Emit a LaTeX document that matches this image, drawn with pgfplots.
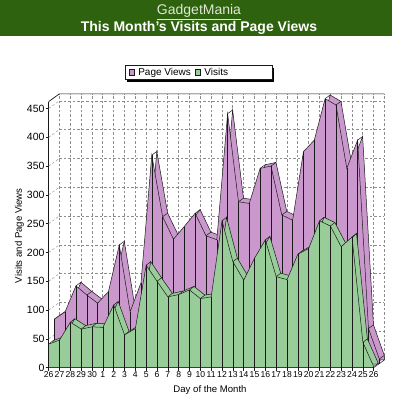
\documentclass[border=0pt]{standalone}
\usepackage{pgfplots}
\usepackage{pgfplotstable}
\pgfplotsset{compat=1.18}
\usepackage{fontspec}
\setmainfont{Liberation Sans}
\definecolor{hdr}{RGB}{46,98,14}
\definecolor{hdrtext}{RGB}{222,232,212}
\definecolor{pv}{RGB}{202,152,204}
\definecolor{vi}{RGB}{152,204,152}
\definecolor{edge}{RGB}{25,25,25}
\definecolor{gridc}{RGB}{140,140,140}
\pgfdeclarelayer{bg}
\pgfdeclarelayer{shad}
\pgfsetlayers{bg,shad,main}
\pgfplotstableread{
x pv vi
0 77 41
1 90 48
2 135 79
3 119 67
4 105 71
5 125 70
6 206 109
7 90 57
8 140 68
9 362 178
10 255 150
11 216 123
12 238 127
13 261 135
14 222 120
15 215 123
16 434 255
17 281 184
18 278 152
19 339 190
20 343 222
21 258 158
22 249 153
23 368 197
24 388 207
25 460 255
26 449 246
27 339 210
28 388 227
29 61 44
30 8 2
}\data
\begin{document}
\begin{tikzpicture}
\path[use as bounding box] (0pt,0pt) rectangle (392pt,400pt);
\begin{pgfonlayer}{bg}
\fill[white] (0pt,0pt) rectangle (392pt,400pt);
\end{pgfonlayer}
\fill[hdr] (0pt,364pt) rectangle (392pt,400pt);
\node[anchor=base, text=hdrtext, font=\fontsize{14}{16}\selectfont, inner sep=0pt] at (199pt,385pt) {\underline{GadgetMania}};
\node[anchor=base, text=white, font=\bfseries\fontsize{14}{16}\selectfont, inner sep=0pt] at (199pt,368.5pt) {This Month's Visits and Page Views};

% back wall
\begin{axis}[at={(59.3pt,40pt)}, anchor=south west, scale only axis,
  width=325pt, height=266.1pt,
  xmin=0, xmax=30, ymin=0, ymax=462,
  xtick={0,...,30}, ytick={0,50,...,450},
  xticklabels={}, yticklabels={}, major tick length=0pt,
  grid=major, grid style={gridc, dash pattern=on 2.5pt off 2pt, line width=0.4pt},
  axis line style={draw=none}]
\addplot[draw=none] coordinates {(0,0)};
\end{axis}

% front
\begin{axis}[at={(48.7pt,32.3pt)}, anchor=south west, scale only axis,
  width=325pt, height=266.1pt,
  xmin=0, xmax=30, ymin=0, ymax=462, clip=false,
  axis x line*=bottom, axis y line*=left,
  axis line style={edge, line width=0.8pt, -},
  xtick={0,...,30},
  xticklabels={26,27,28,29,30,1,2,3,4,5,6,7,8,9,10,11,12,13,14,15,16,17,18,19,20,21,22,23,24,25,26},
  ytick={0,50,...,450},
  tick align=outside, major tick length=3pt, tick style={edge, line width=0.5pt},
  /pgf/number format/assume math mode=true,
  xticklabel style={font=\fontsize{8.6}{10}\selectfont, inner sep=1pt},
  yticklabel style={font=\fontsize{10.5}{12}\selectfont, inner sep=1pt},
  xlabel={Day of the Month}, ylabel={Visits and Page Views},
  label style={font=\fontsize{9.6}{11}\selectfont},
  xlabel style={at={(axis description cs:0.4963,-0.0838)}, anchor=center},
  ylabel style={at={(axis description cs:-0.0898,0.496)}, anchor=center},
  legend columns=2,
  legend style={name=leg, at={(axis description cs:0.2348,1.1375)}, anchor=north west,
    draw=edge, line width=0.6pt, fill=white, font=\fontsize{10}{11}\selectfont,
    inner xsep=4pt, inner ysep=1pt, nodes={inner sep=1.5pt},
    /tikz/every odd column/.append style={column sep=2pt},
    /tikz/every even column/.append style={column sep=3pt}},
  legend image code/.code={\draw[#1, line width=0.5pt] (0pt,-3pt) rectangle (5pt,3pt);}
]
% side wall and frame
\addplot[gridc, dash pattern=on 2.5pt off 2pt, line width=0.4pt, quiver={u=0.979,v=13.37}, forget plot]
  coordinates {(0,50)(0,100)(0,150)(0,200)(0,250)(0,300)(0,350)(0,400)(0,450)};
\addplot[edge, line width=0.7pt, forget plot] coordinates {(0,462) (0.979,475.37) (30.979,475.37)};
\addplot[edge, line width=0.5pt, forget plot] coordinates {(30,0) (30.979,13.37)};

% page views
\addplot[fill=pv, draw=edge, line width=0.5pt, xshift=10.6pt, yshift=7.7pt, forget plot] table[x=x,y=pv]{\data} \closedcycle;
\addplot[edge, line width=0.5pt, xshift=5.6pt, yshift=4.1pt, quiver={u=0.4615,v=6.25}, forget plot] table[x=x,y=pv]{\data};
\addplot[fill=pv, draw=edge, line width=0.5pt, xshift=5.6pt, yshift=4.1pt, forget plot] table[x=x,y=pv]{\data} \closedcycle;
\addplot[ycomb, edge, line width=0.5pt, xshift=5.6pt, yshift=4.1pt, forget plot] table[x=x,y=pv]{\data};

% visits
\addplot[fill=vi, draw=edge, line width=0.5pt, xshift=4.5pt, yshift=3.5pt, forget plot] table[x=x,y=vi]{\data} \closedcycle;
\addplot[edge, line width=0.5pt, quiver={u=0.4154,v=6.077}, forget plot] table[x=x,y=vi]{\data};
\addplot[fill=vi, draw=edge, line width=0.5pt, forget plot] table[x=x,y=vi]{\data} \closedcycle;
\addplot[ycomb, edge, line width=0.5pt, forget plot] table[x=x,y=vi]{\data};

\addlegendimage{fill=pv, draw=edge}
\addlegendentry{Page Views}
\addlegendimage{fill=vi, draw=edge}
\addlegendentry{\makebox[62pt][l]{Visits}}
\end{axis}
\begin{pgfonlayer}{shad}
\fill[black] ([shift={(2.2pt,-3pt)}]leg.south west) rectangle ([shift={(2.2pt,-3pt)}]leg.north east);
\end{pgfonlayer}
\end{tikzpicture}
\end{document}
